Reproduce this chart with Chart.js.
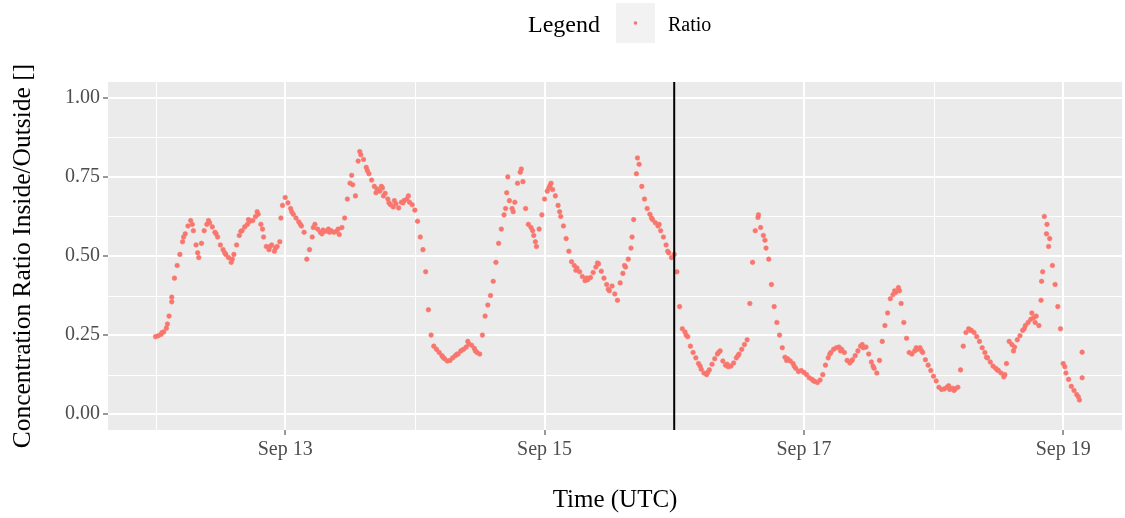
<!DOCTYPE html>
<html>
<head>
<meta charset="utf-8">
<script src="https://cdn.jsdelivr.net/npm/chart.js@4/dist/chart.umd.min.js"></script>
<style>
  html, body { margin: 0; padding: 0; background: #ffffff; }
  #wrap { width: 1125px; height: 518px; position: relative; }
</style>
</head>
<body>
<div id="wrap"><canvas id="ratioChart"></canvas></div>
<script>
// half-hourly ratio readings, each day starting at 00:00 UTC
const sep12 = [0.245, 0.248, 0.252, 0.26, 0.272, 0.31, 0.37, 0.43, 0.47, 0.505, 0.545, 0.57,
  0.595, 0.612, 0.58, 0.535, 0.495, 0.54, 0.58, 0.6, 0.605, 0.592, 0.575, 0.56,
  0.535, 0.52, 0.505, 0.495, 0.48, 0.505, 0.535, 0.565, 0.58, 0.592, 0.6, 0.61,
  0.612, 0.625, 0.632, 0.6, 0.56, 0.53, 0.52, 0.535, 0.515, 0.53, 0.545, 0.66];
const sep13 = [0.685, 0.668, 0.65, 0.632, 0.62, 0.608, 0.595, 0.575, 0.49, 0.52, 0.56, 0.6,
  0.585, 0.575, 0.582, 0.578, 0.585, 0.58, 0.575, 0.578, 0.568, 0.59, 0.62, 0.68,
  0.73, 0.725, 0.69, 0.8, 0.82, 0.805, 0.78, 0.76, 0.74, 0.72, 0.712, 0.705,
  0.715, 0.698, 0.68, 0.662, 0.655, 0.665, 0.652, 0.67, 0.675, 0.68, 0.67, 0.662];
const sep14 = [0.645, 0.61, 0.56, 0.52, 0.45, 0.33, 0.25, 0.215, 0.205, 0.195, 0.185, 0.175,
  0.168, 0.17, 0.178, 0.185, 0.19, 0.2, 0.205, 0.212, 0.222, 0.218, 0.208, 0.195,
  0.19, 0.25, 0.31, 0.345, 0.375, 0.42, 0.48, 0.54, 0.585, 0.63, 0.7, 0.675,
  0.65, 0.67, 0.73, 0.765, 0.735, 0.65, 0.6, 0.59, 0.565, 0.53, 0.585, 0.63];
const sep15 = [0.68, 0.705, 0.722, 0.71, 0.69, 0.66, 0.625, 0.595, 0.555, 0.515, 0.482, 0.47,
  0.462, 0.45, 0.435, 0.422, 0.425, 0.432, 0.448, 0.465, 0.475, 0.452, 0.43, 0.41,
  0.39, 0.405, 0.38, 0.36, 0.415, 0.445, 0.465, 0.49, 0.525, 0.615, 0.76, 0.79,
  0.72, 0.68, 0.65, 0.632, 0.615, 0.605, 0.595, 0.58, 0.56, 0.535, 0.51, 0.495];
const sep16 = [0.505, 0.45, 0.34, 0.27, 0.26, 0.245, 0.215, 0.195, 0.178, 0.16, 0.142, 0.13,
  0.125, 0.14, 0.158, 0.175, 0.19, 0.2, 0.168, 0.155, 0.15, 0.152, 0.162, 0.178,
  0.19, 0.205, 0.22, 0.235, 0.35, 0.48, 0.58, 0.622, 0.59, 0.565, 0.525, 0.49,
  0.41, 0.34, 0.29, 0.25, 0.21, 0.18, 0.175, 0.168, 0.16, 0.145, 0.135, 0.138];
const sep17 = [0.132, 0.125, 0.115, 0.11, 0.104, 0.1, 0.108, 0.125, 0.155, 0.178, 0.195, 0.205,
  0.21, 0.212, 0.205, 0.195, 0.17, 0.162, 0.172, 0.185, 0.2, 0.215, 0.21, 0.212,
  0.19, 0.165, 0.145, 0.13, 0.17, 0.23, 0.28, 0.32, 0.365, 0.378, 0.385, 0.4,
  0.35, 0.29, 0.24, 0.195, 0.19, 0.2, 0.205, 0.21, 0.195, 0.172, 0.155, 0.138];
const sep18 = [0.12, 0.105, 0.085, 0.078, 0.08, 0.085, 0.078, 0.082, 0.08, 0.085, 0.14, 0.215,
  0.258, 0.27, 0.265, 0.258, 0.245, 0.23, 0.21, 0.195, 0.178, 0.165, 0.152, 0.145,
  0.138, 0.13, 0.118, 0.16, 0.23, 0.22, 0.212, 0.235, 0.248, 0.265, 0.28, 0.29,
  0.3, 0.305, 0.31, 0.28, 0.42, 0.625, 0.6, 0.555, 0.47, 0.41, 0.34, 0.27];
const sep19 = [0.16, 0.13, 0.11, 0.088, 0.075, 0.062, 0.045, 0.115];
const dayReadings = [sep12, sep13, sep14, sep15, sep16, sep17, sep18, sep19];

// readings off the half-hour grid: [hours since Sep 12 00:00, ratio]
const extraReadings = [
  [1.2, 0.258], [2.2, 0.285], [3.0, 0.355], [5.2, 0.56], [6.8, 0.6], [7.8, 0.51],
  [9.8, 0.612], [11.2, 0.57], [12.8, 0.51], [14.2, 0.49], [15.8, 0.578], [17.2, 0.615],
  [18.8, 0.64], [19.8, 0.585], [21.2, 0.53], [22.2, 0.525], [23.2, 0.62], [25.2, 0.64],
  [26.8, 0.6], [29.2, 0.59], [30.8, 0.57], [32.2, 0.575], [33.8, 0.585], [36.3, 0.755],
  [37.8, 0.83], [39.2, 0.77], [40.8, 0.7], [41.8, 0.72], [42.2, 0.69], [43.2, 0.668],
  [44.2, 0.675], [45.8, 0.668], [46.8, 0.69], [53.2, 0.18], [55.8, 0.19], [57.8, 0.23],
  [59.2, 0.2], [64.8, 0.65], [65.2, 0.75], [66.2, 0.64], [67.7, 0.775], [69.8, 0.58],
  [70.3, 0.545], [72.8, 0.715], [73.2, 0.73], [74.8, 0.64], [77.8, 0.455], [79.8, 0.43],
  [81.8, 0.478], [83.8, 0.395], [86.8, 0.47], [88.2, 0.56], [89.2, 0.81], [91.8, 0.62],
  [93.2, 0.6], [94.8, 0.515], [98.2, 0.25], [100.8, 0.152], [102.2, 0.132], [104.2, 0.195],
  [105.8, 0.158], [107.8, 0.185], [111.6, 0.63], [112.8, 0.55], [116.8, 0.17], [118.2, 0.152],
  [121.8, 0.105], [124.8, 0.19], [126.8, 0.2], [128.8, 0.168], [130.8, 0.22], [132.8, 0.152],
  [136.8, 0.39], [137.7, 0.39], [140.8, 0.21], [141.8, 0.2], [146.8, 0.09], [147.8, 0.075],
  [150.8, 0.265], [153.8, 0.18], [155.8, 0.14], [157.2, 0.125], [158.8, 0.2], [160.8, 0.27],
  [162.2, 0.32], [162.8, 0.29], [163.9, 0.36], [164.2, 0.45], [164.9, 0.57], [165.3, 0.53],
  [168.3, 0.15], [170.8, 0.055], [171.5, 0.196]
];

const xTickHours = [24, 72, 120, 168];
const xTickLabels = ["Sep 13", "Sep 15", "Sep 17", "Sep 19"];
const yTicks = [0, 0.25, 0.5, 0.75, 1];
const yTickLabels = ["0.00", "0.25", "0.50", "0.75", "1.00"];
const markerHour = 96;

const points = [];
dayReadings.forEach((vals, d) => {
  vals.forEach((v, i) => points.push({ x: d * 24 + i * 0.5, y: v }));
});
extraReadings.forEach(([h, v]) => points.push({ x: h, y: v }));

const serif = "'Liberation Serif', 'Times New Roman', serif";
const dotColor = "#F8766D";

// grey panel, minor grid, marker line and the ggplot style legend
const ggPanel = {
  id: "ggPanel",
  beforeDraw(chart) {
    const { ctx, chartArea: a, scales } = chart;
    const x = scales.x, y = scales.y;
    ctx.save();
    ctx.fillStyle = "#EBEBEB";
    ctx.fillRect(a.left, a.top, a.right - a.left, a.bottom - a.top);
    ctx.strokeStyle = "#FFFFFF";
    ctx.lineWidth = 1;
    const yStep = yTicks[1] - yTicks[0];
    for (let v = yTicks[0] - yStep / 2; v <= y.max; v += yStep) {
      if (v < y.min) continue;
      const py = Math.round(y.getPixelForValue(v)) + 0.5;
      ctx.beginPath(); ctx.moveTo(a.left, py); ctx.lineTo(a.right, py); ctx.stroke();
    }
    const xStep = xTickHours[1] - xTickHours[0];
    for (let v = xTickHours[0] - xStep / 2; v <= x.max; v += xStep) {
      if (v < x.min) continue;
      const px = Math.round(x.getPixelForValue(v)) + 0.5;
      ctx.beginPath(); ctx.moveTo(px, a.top); ctx.lineTo(px, a.bottom); ctx.stroke();
    }
    ctx.restore();
  },
  afterDatasetsDraw(chart) {
    const { ctx, chartArea: a, scales } = chart;
    const px = scales.x.getPixelForValue(markerHour);
    ctx.save();
    ctx.strokeStyle = "#000000";
    ctx.lineWidth = 2;
    ctx.beginPath(); ctx.moveTo(px, a.top); ctx.lineTo(px, a.bottom); ctx.stroke();
    ctx.restore();
  },
  afterDraw(chart) {
    const ctx = chart.ctx;
    ctx.save();
    ctx.fillStyle = "#000000";
    ctx.textBaseline = "alphabetic";
    ctx.font = "24px " + serif;
    ctx.fillText("Legend", 528, 31.5);
    ctx.fillStyle = "#F2F2F2";
    ctx.fillRect(616, 3, 39, 40);
    ctx.fillStyle = dotColor;
    ctx.beginPath(); ctx.arc(635.5, 23, 1.8, 0, Math.PI * 2); ctx.fill();
    ctx.fillStyle = "#000000";
    ctx.font = "20px " + serif;
    ctx.fillText("Ratio", 668, 30.5);
    ctx.restore();
  }
};

const ctx = document.getElementById("ratioChart").getContext("2d");
const ratioChart = new Chart(ctx, {
  type: "scatter",
  data: {
    datasets: [
      {
        label: "Ratio",
        data: points,
        backgroundColor: dotColor,
        borderColor: dotColor,
        borderWidth: 0.6,
        pointRadius: 2.3,
        pointHoverRadius: 2.3,
      },
    ],
  },
  options: {
    responsive: true,
    maintainAspectRatio: false,
    animation: false,
    layout: { padding: { top: 82, left: 0, right: 0, bottom: 0 } },
    plugins: {
      legend: { display: false },
      tooltip: { enabled: false },
      title: { display: false },
    },
    scales: {
      x: {
        type: "linear",
        min: -8.8,
        max: 178.9,
        afterFit: (scale) => { scale.height = 88; },
        afterBuildTicks: (scale) => {
          scale.ticks = xTickHours.map((v) => ({ value: v }));
        },
        ticks: {
          callback: (value) => xTickLabels[xTickHours.indexOf(value)],
          font: { family: serif, size: 20 },
          color: "#4D4D4D",
          padding: 3,
          maxRotation: 0,
        },
        grid: {
          color: "#FFFFFF",
          lineWidth: 2,
          tickColor: "#333333",
          tickLength: 5,
          tickWidth: 1,
        },
        border: { display: false },
        title: {
          display: true,
          text: "Time (UTC)",
          font: { family: serif, size: 25 },
          color: "#000000",
          padding: { top: 4, bottom: 3 },
        },
      },
      y: {
        type: "linear",
        min: -0.05,
        max: 1.05,
        afterFit: (scale) => { scale.width = 108; },
        afterBuildTicks: (scale) => {
          scale.ticks = yTicks.map((v) => ({ value: v }));
        },
        ticks: {
          callback: (value) => yTickLabels[yTicks.indexOf(value)],
          font: { family: serif, size: 20 },
          color: "#4D4D4D",
          padding: 3,
        },
        grid: {
          color: "#FFFFFF",
          lineWidth: 2,
          tickColor: "#333333",
          tickLength: 5,
          tickWidth: 1,
        },
        border: { display: false },
        title: {
          display: true,
          text: "Concentration Ratio Inside/Outside []",
          font: { family: serif, size: 25.5 },
          color: "#000000",
          padding: { top: 8, bottom: 0 },
        },
      },
    },
  },
  plugins: [ggPanel],
});
</script>
</body>
</html>
